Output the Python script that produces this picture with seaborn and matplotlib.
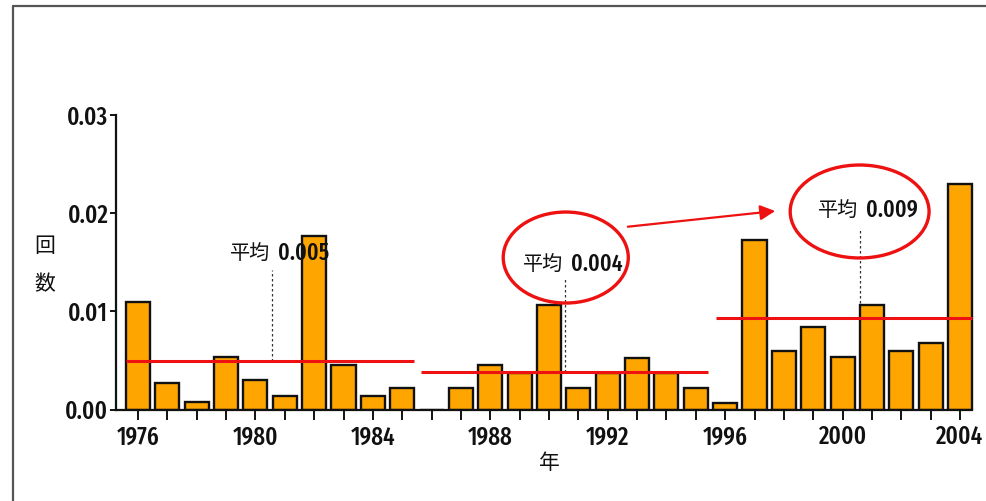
import matplotlib
matplotlib.use("Agg")
import matplotlib.pyplot as plt
from matplotlib import font_manager
from matplotlib.font_manager import FontProperties
from matplotlib.patches import Ellipse, FancyArrowPatch
from matplotlib.lines import Line2D
import numpy as np
import pandas as pd
import seaborn as sns

# Yearly counts
years = list(range(1976, 2005))
counts = [0.0109, 0.0027, 0.0008, 0.0053, 0.0030, 0.0014, 0.0177, 0.0045, 0.0014, 0.0022,
          0.0, 0.0022, 0.0045, 0.0037, 0.0106, 0.0022, 0.0037, 0.0052, 0.0037, 0.0022,
          0.0007, 0.0173, 0.0060, 0.0084, 0.0053, 0.0106, 0.0060, 0.0068, 0.0230]
y_ticks = [0.00, 0.01, 0.02, 0.03]
# Periods averaged: (first year, last year)
periods = [(1976, 1985), (1986, 1995), (1996, 2004)]

sns.set_style("white")
cjk = "Noto Sans CJK JP"
plt.rcParams["font.family"] = ["DejaVu Sans", cjk]


def weight_value(w):
    if isinstance(w, (int, float)):
        return int(w)
    return font_manager.weight_dict.get(str(w).lower(), 400)


def pick_narrow_font():
    """Find a narrow sans face (extra-condensed preferred) for the numerals."""
    condensed = {"condensed", "semi-condensed", "extra-condensed", "ultra-condensed"}
    best = None
    for f in font_manager.fontManager.ttflist:
        name = f.name.lower()
        path = f.fname.lower().replace("-", "").replace("_", "")
        st = f.stretch
        is_cond = (isinstance(st, str) and st in condensed) or (isinstance(st, (int, float)) and st < 500) \
            or "narrow" in name or "condensed" in name or "narrow" in path or "condensed" in path
        if not is_cond or f.style != "normal" or "mono" in name or "serif" in name or "italic" in path:
            continue
        w = weight_value(f.weight)
        for key, val in (("semibold", 600), ("extrabold", 800), ("bold", 700), ("medium", 500),
                         ("light", 300), ("thin", 100), ("black", 900)):
            if key in path.rsplit("/", 1)[-1]:
                w = val
                break
        score = abs(w - 480)
        if "extracondensed" in path or st == "extra-condensed":
            score -= 60
        elif "ultracondensed" in path:
            score += 150
        elif "semicondensed" in path:
            score += 60
        if "liberation" in name:
            score -= 100
        if best is None or score < best[0]:
            best = (score, f.fname)
    if best is not None:
        return FontProperties(fname=best[1])
    return FontProperties(family="Liberation Sans")


num_fp = pick_narrow_font()

fig = plt.figure(figsize=(9.87, 5.01), dpi=100)
W, H = 987, 501


def fx(px):
    return px / W


def fy(py):
    return 1 - py / H


ax = fig.add_axes([fx(116), fy(409.5), fx(975) - fx(116), fy(115) - fy(409.5)])

df = pd.DataFrame({"year": [str(y) for y in years], "count": counts})
sns.barplot(data=df, x="year", y="count", color="#FFA500", saturation=1,
            edgecolor="#111111", linewidth=1.7, width=0.82, ax=ax, zorder=2)

ax.set_xlim(-0.75, 28.51)
ax.set_ylim(0, 0.03)
ax.set_xlabel("")
ax.set_ylabel("")
for s in ["top", "right"]:
    ax.spines[s].set_visible(False)
for s in ["left", "bottom"]:
    ax.spines[s].set_linewidth(1.6)
    ax.spines[s].set_color("#111111")
ax.spines["bottom"].set_bounds(-0.75, 28.41)

tick_fp = num_fp.copy()
tick_fp.set_size(18)
ax.set_xticks(range(len(years)))
ax.set_xticklabels([str(y) if y % 4 == 0 else "" for y in years], fontproperties=tick_fp)
ax.set_yticks(y_ticks)
ax.set_yticklabels([f"{v:.2f}" for v in y_ticks], fontproperties=tick_fp)
ax.tick_params(axis="x", length=7, width=1.4, pad=4, colors="#111111")
ax.tick_params(axis="y", length=4.5, width=1.4, pad=1, colors="#111111")
ax.tick_params(axis="both", direction="out", bottom=True, left=True)

# Period means with labels
idx = {y: i for i, y in enumerate(years)}
line_spans = [(-0.41, 9.41), (9.64, 19.42), (19.69, 28.41)]
guide_x = [4.56, 14.55, 24.6]
label_y = [0.0159, 0.0148, 0.0203]
guide_top = [0.0142, 0.0134, 0.0185]
means = [float(np.mean(counts[idx[a]:idx[b] + 1])) for a, b in periods]

xpx = 29.357  # pixels per category
lab_fp = num_fp.copy()
lab_fp.set_size(17)
for m, (x0, x1), gx, ly, gt in zip(means, line_spans, guide_x, label_y, guide_top):
    ax.plot([x0, x1], [m, m], color="#EE1111", lw=2.2, zorder=4, solid_capstyle="butt")
    ax.plot([gx, gx], [m, gt], color="#333333", lw=0.9, ls=(0, (2, 2)), zorder=1)
    ax.text(gx - 2 / xpx, ly, "平均", ha="right", va="center", family=cjk,
            fontsize=14.5, color="#111111", zorder=5)
    ax.text(gx + 6 / xpx, ly, f"{m:.3f}", ha="left", va="center",
            fontproperties=lab_fp, color="#111111", zorder=5)

# Highlight ellipses and arrow
ax.add_patch(Ellipse((14.57, 0.01548), 4.26, 0.00927, fill=False,
                     edgecolor="#EE1111", lw=2.4, zorder=6, clip_on=False))
ax.add_patch(Ellipse((24.58, 0.02017), 4.73, 0.00947, fill=False,
                     edgecolor="#EE1111", lw=2.4, zorder=6, clip_on=False))
ax.add_patch(FancyArrowPatch((16.59, 0.01859), (21.8, 0.02025),
                             arrowstyle="-|>,head_length=9,head_width=4.5",
                             color="#EE1111", lw=1.6, zorder=6, clip_on=False))

# Axis titles
fig.text(fx(45), fy(246), "回", family=cjk, fontsize=15, ha="center", va="center", color="#111111")
fig.text(fx(45), fy(284), "数", family=cjk, fontsize=15, ha="center", va="center", color="#111111")
fig.text(fx(549), fy(463), "年", family=cjk, fontsize=15, ha="center", va="center", color="#111111")

# Outer frame
fig.add_artist(Line2D([fx(13), fx(13)], [fy(6), 0], transform=fig.transFigure,
                      color="#555555", lw=1.6))
fig.add_artist(Line2D([fx(13), 1], [fy(6), fy(6)], transform=fig.transFigure,
                      color="#555555", lw=1.6))

fig.savefig("out.png", dpi=100)
